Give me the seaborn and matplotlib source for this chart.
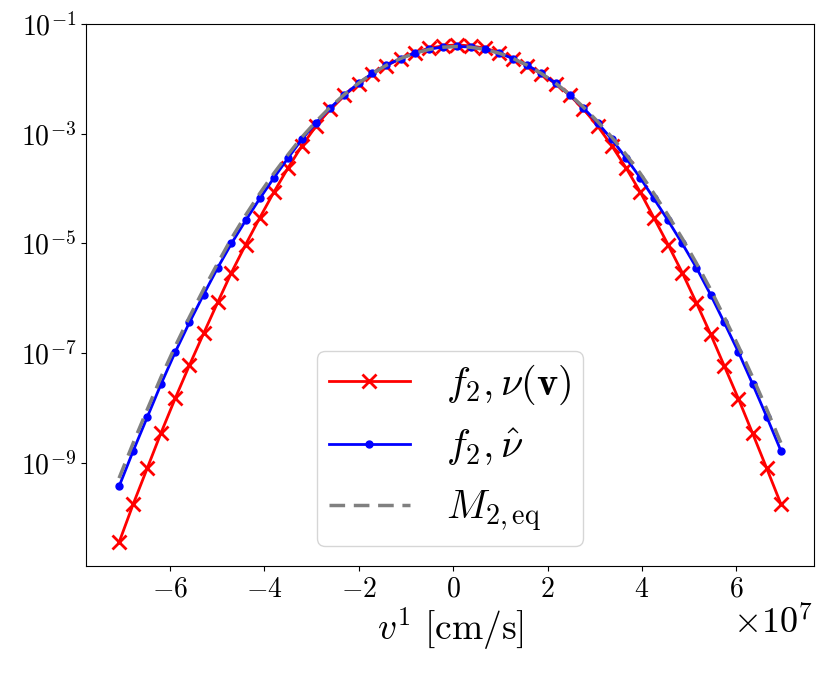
import numpy as np
import matplotlib
matplotlib.use('Agg')
import matplotlib.pyplot as plt
from matplotlib.ticker import FuncFormatter, FixedLocator, NullLocator
import seaborn as sns

plt.rcParams['mathtext.fontset'] = 'cm'
plt.rcParams['font.family'] = ['DejaVu Serif']

# velocity grid, in units of 1e7 cm/s (marker positions)
v_1e7 = [-7.07, -6.77, -6.47, -6.18, -5.88, -5.58, -5.28, -4.98,
         -4.69, -4.39, -4.09, -3.79, -3.49, -3.20, -2.90, -2.60,
         -2.30, -2.00, -1.71, -1.41, -1.11, -0.81, -0.51, -0.22,
         0.08, 0.38, 0.68, 0.98, 1.27, 1.57, 1.87, 2.17,
         2.47, 2.76, 3.06, 3.36, 3.66, 3.96, 4.25, 4.55,
         4.85, 5.15, 5.45, 5.74, 6.04, 6.34, 6.64, 6.94]

# f_2 with nu(v)
f2_nu_v = [3.55e-11, 1.78e-10, 8.13e-10, 3.55e-9, 1.51e-8, 6.03e-8, 2.29e-7, 8.51e-7,
           2.95e-6, 9.55e-6, 2.95e-5, 8.71e-5, 2.40e-4, 6.03e-4, 1.38e-3, 2.82e-3,
           5.01e-3, 8.13e-3, 1.23e-2, 1.74e-2, 2.34e-2, 3.02e-2, 3.63e-2, 3.98e-2,
           4.17e-2, 3.98e-2, 3.63e-2, 3.02e-2, 2.34e-2, 1.74e-2, 1.23e-2, 8.13e-3,
           5.01e-3, 2.82e-3, 1.38e-3, 6.03e-4, 2.40e-4, 8.71e-5, 2.95e-5, 9.55e-6,
           2.95e-6, 8.32e-7, 2.24e-7, 5.89e-8, 1.48e-8, 3.47e-9, 7.94e-10, 1.78e-10]

# f_2 with constant nu hat
f2_nu_hat = [3.72e-10, 1.66e-9, 6.92e-9, 2.75e-8, 1.05e-7, 3.63e-7, 1.17e-6, 3.63e-6,
             1.00e-5, 2.63e-5, 6.61e-5, 1.58e-4, 3.63e-4, 7.94e-4, 1.58e-3, 2.95e-3,
             5.13e-3, 8.32e-3, 1.26e-2, 1.78e-2, 2.34e-2, 2.95e-2, 3.47e-2, 3.80e-2,
             3.89e-2, 3.80e-2, 3.47e-2, 2.95e-2, 2.34e-2, 1.78e-2, 1.26e-2, 8.32e-3,
             5.13e-3, 2.95e-3, 1.58e-3, 7.94e-4, 3.63e-4, 1.58e-4, 6.61e-5, 2.63e-5,
             1.00e-5, 3.63e-6, 1.17e-6, 3.63e-7, 1.05e-7, 2.75e-8, 6.92e-9, 1.66e-9]

# equilibrium Maxwellian
m2_eq = [5.27e-10, 2.31e-9, 9.53e-9, 3.68e-8, 1.34e-7, 4.56e-7, 1.46e-6, 4.39e-6,
         1.24e-5, 3.28e-5, 8.18e-5, 1.91e-4, 4.20e-4, 8.65e-4, 1.67e-3, 3.05e-3,
         5.20e-3, 8.34e-3, 1.25e-2, 1.77e-2, 2.35e-2, 2.93e-2, 3.43e-2, 3.77e-2,
         3.89e-2, 3.77e-2, 3.43e-2, 2.93e-2, 2.35e-2, 1.77e-2, 1.25e-2, 8.34e-3,
         5.20e-3, 3.05e-3, 1.67e-3, 8.65e-4, 4.20e-4, 1.91e-4, 8.18e-5, 3.28e-5,
         1.24e-5, 4.39e-6, 1.46e-6, 4.56e-7, 1.34e-7, 3.68e-8, 9.53e-9, 2.31e-9]

x_ticks = [-6, -4, -2, 0, 2, 4, 6]
y_ticks = [1e-9, 1e-7, 1e-5, 1e-3, 1e-1]

v = np.array(v_1e7) * 1e7

fig = plt.figure(figsize=(8.29, 6.74), dpi=100)
ax = fig.add_axes([0.1037, 0.1602, 0.8782, 0.8042])
ax.set_yscale('log')

sns.lineplot(x=v, y=f2_nu_v, ax=ax, color='red', lw=2, marker='x',
             markersize=10, mec='red', mew=2, label=r'$f_2, \nu(\mathbf{v})$')
sns.lineplot(x=v, y=f2_nu_hat, ax=ax, color='blue', lw=2, marker='o',
             markersize=5, mec='blue', mew=1, label=r'$f_2, \hat{\nu}$')
sns.lineplot(x=v, y=m2_eq, ax=ax, color='gray', lw=2.5,
             linestyle=(0, (4.5, 2.5)), label=r'$M_{2,\mathrm{eq}}$')

ax.set_ylim(10 ** -10.88, 1e-1)
ax.xaxis.set_major_locator(FixedLocator([t * 1e7 for t in x_ticks]))
ax.xaxis.set_major_formatter(FuncFormatter(lambda x, p: r'$%d$' % round(x / 1e7)))
ax.yaxis.set_major_locator(FixedLocator(y_ticks))
ax.yaxis.set_minor_locator(NullLocator())
ax.yaxis.set_major_formatter(FuncFormatter(lambda y, p: r'$10^{%d}$' % round(np.log10(y))))
ax.tick_params(labelsize=20)

ax.set_xlabel(r'$v^1\ \mathrm{[cm/s]}$', fontsize=27, labelpad=2)
fig.text(0.981, 0.0593, r'$\times10^{7}$', fontsize=26, ha='right', va='baseline')

ax.legend(loc='lower center', fontsize=29, handlelength=2.0, borderpad=0.3,
          handletextpad=0.9, borderaxespad=0.5)

fig.savefig('out.png', dpi=100)
